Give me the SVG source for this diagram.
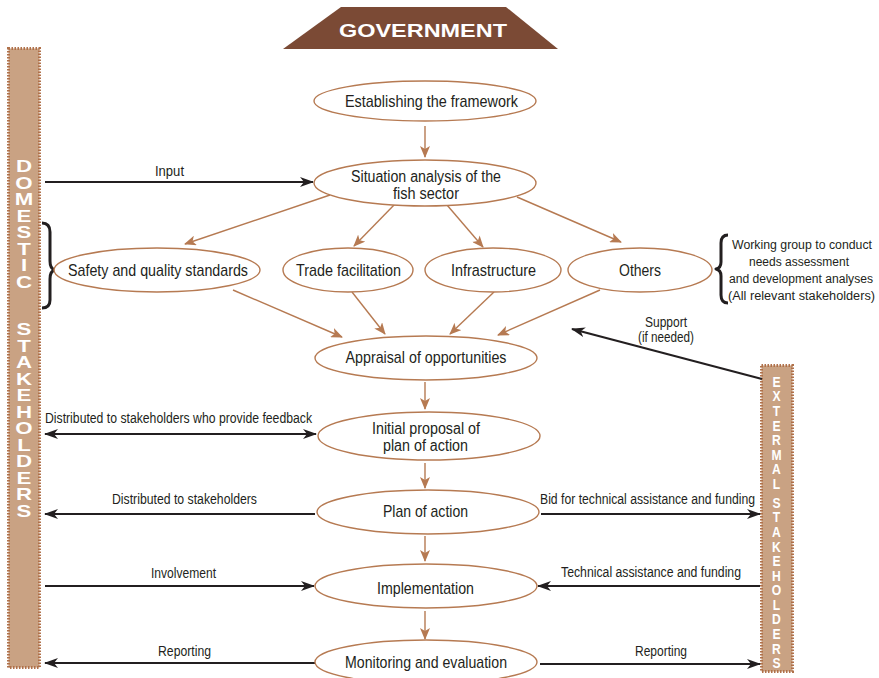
<svg xmlns="http://www.w3.org/2000/svg" width="879" height="678" viewBox="0 0 879 678">
<defs>
<marker id="ak" markerUnits="userSpaceOnUse" markerWidth="14" markerHeight="10" refX="13" refY="5" orient="auto-start-reverse" viewBox="0 0 14 10">
<path d="M0,0 L14,5 L0,10 L4,5 Z" fill="#231f20"/>
</marker>
<marker id="ab" markerUnits="userSpaceOnUse" markerWidth="12" markerHeight="10" refX="11" refY="5" orient="auto" viewBox="0 0 12 10">
<path d="M0,0 L12,5 L0,10 L3,5 Z" fill="#b67a52"/>
</marker>
</defs>
<style>
.el{fill:#fff;stroke:#b67a52;stroke-width:1.4}
.lbl{font-family:'Liberation Sans',Arial,sans-serif;font-size:17px;fill:#231f20;text-anchor:middle}
.two{font-size:16px}
.sm{font-size:14px}
.xs{font-size:12.5px}
.br{stroke:#b67a52;stroke-width:1.4;fill:none;marker-end:url(#ab)}
.bk{stroke:#231f20;stroke-width:2.2;fill:none;marker-end:url(#ak)}
.bar{fill:#c9a283;stroke:#b0714a;stroke-width:3;stroke-dasharray:1.5 1.5}
.bl{font-family:'Liberation Sans',Arial,sans-serif;font-weight:bold;fill:#fff;text-anchor:middle}
.vt{font-family:'Liberation Sans',Arial,sans-serif;font-weight:bold;fill:#fff;writing-mode:vertical-rl;text-orientation:upright;text-anchor:start}
.brace{fill:none;stroke:#231f20;stroke-width:3;stroke-linejoin:round}
</style>
<rect width="879" height="678" fill="#fff"/>

<g id="government">
<polygon points="341,7 506,7 558,49 283,49" fill="#7b4a35"/>
<text x="423" y="37" class="bl" font-size="18" textLength="168" lengthAdjust="spacingAndGlyphs">GOVERNMENT</text>
</g>

<g id="domestic-stakeholders">
<rect class="bar" x="8.5" y="48.5" width="31" height="619"/>
<g transform="translate(24,0) scale(1.35,1)">
<text class="vt" font-size="16.5" letter-spacing="-2" x="0" y="157">DOMESTIC</text>
<text class="vt" font-size="16.5" letter-spacing="-2" x="0" y="320">STAKEHOLDERS</text>
</g>
</g>

<g id="external-stakeholders">
<rect class="bar" x="761.5" y="365.5" width="31" height="306"/>
<g transform="translate(776.5,0) scale(0.85,1)">
<text class="vt" font-size="14.3" letter-spacing="-1.6" x="0" y="374">EXTERMAL</text>
<text class="vt" font-size="14.3" letter-spacing="-1.6" x="0" y="495">STAKEHOLDERS</text>
</g>
</g>

<g id="connectors">
<line class="br" x1="425" y1="126" x2="425" y2="157"/>
<line class="br" x1="330" y1="195" x2="185" y2="244"/>
<line class="br" x1="395" y1="204" x2="354" y2="246"/>
<line class="br" x1="447" y1="205" x2="483" y2="247"/>
<line class="br" x1="517" y1="197" x2="621" y2="242"/>
<line class="br" x1="233" y1="290" x2="342" y2="337"/>
<line class="br" x1="352" y1="292" x2="385" y2="334"/>
<line class="br" x1="494" y1="292" x2="450" y2="334"/>
<line class="br" x1="600" y1="290" x2="498" y2="335"/>
<line class="br" x1="425" y1="382" x2="425" y2="409"/>
<line class="br" x1="425" y1="463" x2="425" y2="488"/>
<line class="br" x1="425" y1="536" x2="425" y2="561"/>
<line class="br" x1="425" y1="611" x2="425" y2="639"/>

<line class="bk" x1="45" y1="182" x2="313" y2="182"/>
<line class="bk" x1="45" y1="434" x2="316" y2="434" marker-start="url(#ak)"/>
<line class="bk" x1="315" y1="514" x2="45" y2="514"/>
<line class="bk" x1="45" y1="586" x2="314" y2="586"/>
<line class="bk" x1="315" y1="663" x2="45" y2="663"/>
<line class="bk" x1="541" y1="514" x2="760" y2="514"/>
<line class="bk" x1="760" y1="586" x2="538" y2="586"/>
<line class="bk" x1="540" y1="664" x2="760" y2="664"/>
<line class="bk" x1="762" y1="379" x2="572" y2="329"/>
<path class="brace" d="M42,223 Q50,223 50,232 L50,261 Q50,269 55,270 Q50,271 50,279 L50,300 Q50,308 42,308"/>
<path class="brace" d="M728,235 Q721,235 721,243 L721,262 Q721,268 716,269 Q721,270 721,276 L721,295 Q721,303 728,303"/>
</g>

<g id="connector-labels" class="lbl sm">
<text x="169.5" y="176" textLength="29" lengthAdjust="spacingAndGlyphs">Input</text>
<text x="178.5" y="423" textLength="267" lengthAdjust="spacingAndGlyphs">Distributed to stakeholders who provide feedback</text>
<text x="184.5" y="504" textLength="145" lengthAdjust="spacingAndGlyphs">Distributed to stakeholders</text>
<text x="183.5" y="578" textLength="65" lengthAdjust="spacingAndGlyphs">Involvement</text>
<text x="184.5" y="656" textLength="53" lengthAdjust="spacingAndGlyphs">Reporting</text>
<text x="647.5" y="504" textLength="215" lengthAdjust="spacingAndGlyphs">Bid for technical assistance and funding</text>
<text x="651" y="577" textLength="180" lengthAdjust="spacingAndGlyphs">Technical assistance and funding</text>
<text x="661" y="656" textLength="52" lengthAdjust="spacingAndGlyphs">Reporting</text>
<text x="666" y="327" textLength="42" lengthAdjust="spacingAndGlyphs">Support</text>
<text x="666" y="342" textLength="56" lengthAdjust="spacingAndGlyphs">(if needed)</text>
</g>

<g id="working-group" class="lbl xs">
<text x="802" y="249" textLength="140" lengthAdjust="spacingAndGlyphs">Working group to conduct</text>
<text x="799" y="266" textLength="100" lengthAdjust="spacingAndGlyphs">needs assessment</text>
<text x="801" y="283" textLength="144" lengthAdjust="spacingAndGlyphs">and development analyses</text>
<text x="801.5" y="300" textLength="147" lengthAdjust="spacingAndGlyphs">(All relevant stakeholders)</text>
</g>

<g id="establishing"><ellipse class="el" cx="425" cy="101" rx="111" ry="20"/><text class="lbl" x="431.5" y="107" textLength="173" lengthAdjust="spacingAndGlyphs">Establishing the framework</text></g>
<g id="situation"><ellipse class="el" cx="425" cy="183" rx="111" ry="23"/><text class="lbl two" x="426" y="181.5" textLength="150" lengthAdjust="spacingAndGlyphs">Situation analysis of the</text><text class="lbl two" x="426" y="198.5" textLength="66" lengthAdjust="spacingAndGlyphs">fish sector</text></g>
<g id="safety"><ellipse class="el" cx="157" cy="270" rx="103" ry="22"/><text class="lbl" x="158" y="276" textLength="180" lengthAdjust="spacingAndGlyphs">Safety and quality standards</text></g>
<g id="trade"><ellipse class="el" cx="348" cy="270" rx="65" ry="22"/><text class="lbl" x="348.5" y="276" textLength="105" lengthAdjust="spacingAndGlyphs">Trade facilitation</text></g>
<g id="infrastructure"><ellipse class="el" cx="493" cy="270" rx="68" ry="22"/><text class="lbl" x="493.5" y="276" textLength="85" lengthAdjust="spacingAndGlyphs">Infrastructure</text></g>
<g id="others"><ellipse class="el" cx="640" cy="270" rx="72" ry="22"/><text class="lbl" x="640" y="276" textLength="42" lengthAdjust="spacingAndGlyphs">Others</text></g>
<g id="appraisal"><ellipse class="el" cx="426" cy="358" rx="111" ry="22"/><text class="lbl" x="426" y="363" textLength="161" lengthAdjust="spacingAndGlyphs">Appraisal of opportunities</text></g>
<g id="initial-proposal"><ellipse class="el" cx="429" cy="436" rx="111" ry="24"/><text class="lbl two" x="426" y="434" textLength="108" lengthAdjust="spacingAndGlyphs">Initial proposal of</text><text class="lbl two" x="425.5" y="451" textLength="85" lengthAdjust="spacingAndGlyphs">plan of action</text></g>
<g id="plan"><ellipse class="el" cx="428" cy="512" rx="111" ry="22"/><text class="lbl" x="425.5" y="517" textLength="85" lengthAdjust="spacingAndGlyphs">Plan of action</text></g>
<g id="implementation"><ellipse class="el" cx="426" cy="586" rx="111" ry="22"/><text class="lbl" x="425.5" y="594" textLength="97" lengthAdjust="spacingAndGlyphs">Implementation</text></g>
<g id="monitoring"><ellipse class="el" cx="426" cy="662" rx="111" ry="22"/><text class="lbl" x="426" y="668" textLength="162" lengthAdjust="spacingAndGlyphs">Monitoring and evaluation</text></g>
</svg>
